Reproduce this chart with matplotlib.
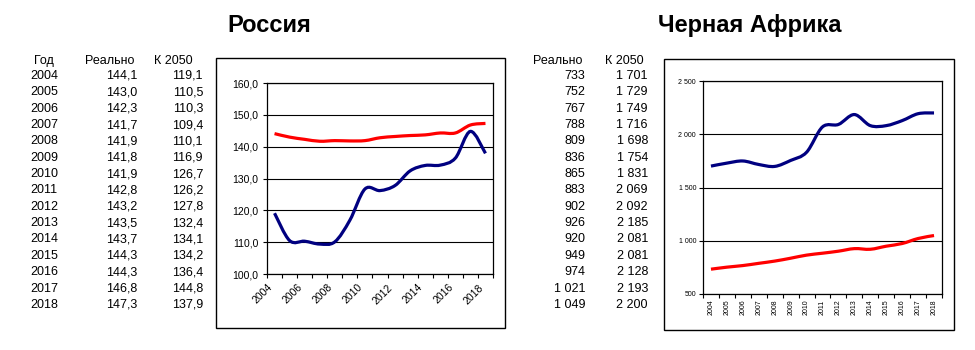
import matplotlib.pyplot as plt
from matplotlib.path import Path
from matplotlib.patches import PathPatch, Rectangle

plt.rcParams['font.family'] = ['Liberation Sans', 'DejaVu Sans']

years = list(range(2004, 2019))

# Россия, млн чел.
rus_real = [144.1, 143.0, 142.3, 141.7, 141.9, 141.8, 141.9, 142.8,
            143.2, 143.5, 143.7, 144.3, 144.3, 146.8, 147.3]
rus_2050 = [119.1, 110.5, 110.3, 109.4, 110.1, 116.9, 126.7, 126.2,
            127.8, 132.4, 134.1, 134.2, 136.4, 144.8, 137.9]

# Черная Африка, млн чел.
afr_real = [733, 752, 767, 788, 809, 836, 865, 883, 902, 926, 920, 949,
            974, 1021, 1049]
afr_2050 = [1701, 1729, 1749, 1716, 1698, 1754, 1831, 2069, 2092, 2185,
            2081, 2081, 2128, 2193, 2200]

W, H = 975, 350
RED = '#ff0000'
NAVY = '#000080'


def fx(px):
    return px / W


def fy(py):
    return 1 - py / H


def rus_fmt(v):
    return f"{v:.1f}".replace('.', ',')


def afr_fmt(v):
    return f"{int(v):,}".replace(',', ' ')


def smooth_line(ax, y, color):
    # smoothed line like the spreadsheet one: cubic Bezier through every point
    x = list(range(len(y)))
    n = len(y)
    verts = [(x[0], y[0])]
    codes = [Path.MOVETO]
    for i in range(n - 1):
        a = i - 1 if i > 0 else i
        b = i + 2 if i + 2 < n else i + 1
        c1 = (x[i] + (x[i + 1] - x[a]) / 6, y[i] + (y[i + 1] - y[a]) / 6)
        c2 = (x[i + 1] - (x[b] - x[i]) / 6, y[i + 1] - (y[b] - y[i]) / 6)
        verts += [c1, c2, (x[i + 1], y[i + 1])]
        codes += [Path.CURVE4] * 3
    ax.add_patch(PathPatch(Path(verts, codes), facecolor='none',
                           edgecolor=color, lw=2.3, zorder=3))


def frame(x0, y0, x1, y1):
    fig.add_artist(Rectangle((fx(x0), fy(y1)), fx(x1 - x0), (y1 - y0) / H,
                             transform=fig.transFigure, fill=False,
                             edgecolor='black', lw=1.0))


fig = plt.figure(figsize=(9.75, 3.5), dpi=100)

# titles
fig.text(fx(269), fy(32), 'Россия', ha='center', va='baseline',
         fontsize=17, fontweight='bold')
fig.text(fx(750), fy(32), 'Черная Африка', ha='center', va='baseline',
         fontsize=17, fontweight='bold')

# tables
row0, step = 76, 16.35
tfs = 9
fig.text(fx(44), fy(61), 'Год', ha='center', va='center', fontsize=tfs)
fig.text(fx(110), fy(61), 'Реально', ha='center', va='center', fontsize=tfs)
fig.text(fx(173), fy(61), 'К 2050', ha='center', va='center', fontsize=tfs)
fig.text(fx(558), fy(61), 'Реально', ha='center', va='center', fontsize=tfs)
fig.text(fx(624), fy(61), 'К 2050', ha='center', va='center', fontsize=tfs)
for i, yr in enumerate(years):
    yy = fy(row0 + i * step)
    fig.text(fx(44), yy, str(yr), ha='center', va='center', fontsize=tfs)
    fig.text(fx(137), yy, rus_fmt(rus_real[i]), ha='right', va='center', fontsize=tfs)
    fig.text(fx(203), yy, rus_fmt(rus_2050[i]), ha='right', va='center', fontsize=tfs)
    fig.text(fx(585), yy, afr_fmt(afr_real[i]), ha='right', va='center', fontsize=tfs)
    fig.text(fx(648), yy, afr_fmt(afr_2050[i]), ha='right', va='center', fontsize=tfs)

# chart frames
frame(216, 58, 505, 328)
frame(664, 59, 954, 330)

# ---- Россия chart ----
ax1 = fig.add_axes([fx(267), fy(274), fx(493 - 267), (274 - 83) / H])
smooth_line(ax1, rus_real, RED)
smooth_line(ax1, rus_2050, NAVY)
ax1.set_xlim(-0.5, len(years) - 0.5)
ax1.set_ylim(100, 160)
ax1.set_yticks(range(100, 161, 10))
ax1.set_yticklabels([rus_fmt(v) for v in range(100, 161, 10)], fontsize=7.5)
ax1.yaxis.grid(True, color='black', lw=0.8)
ax1.set_axisbelow(True)
bounds = [k - 0.5 for k in range(len(years) + 1)]
ax1.set_xticks(bounds)
ax1.set_xticklabels([str(years[k]) if k < len(years) and k % 2 == 0 else ''
                     for k in range(len(bounds))],
                    fontsize=7.5, rotation=45, ha='right', rotation_mode='anchor')
ax1.tick_params(direction='out', length=3, width=0.8, pad=3)
for s in ax1.spines.values():
    s.set_linewidth(0.9)

# ---- Черная Африка chart ----
ax2 = fig.add_axes([fx(703), fy(294), fx(942 - 703), (294 - 81) / H])
smooth_line(ax2, afr_2050, NAVY)
smooth_line(ax2, afr_real, RED)
ax2.set_xlim(-0.5, len(years) - 0.5)
ax2.set_ylim(500, 2500)
ax2.set_yticks(range(500, 2501, 500))
ax2.set_yticklabels([afr_fmt(v) for v in range(500, 2501, 500)], fontsize=5)
ax2.yaxis.grid(True, color='black', lw=0.8)
ax2.set_axisbelow(True)
ax2.set_xticks(bounds)
ax2.set_xticklabels([])
ax2.set_xticks(range(len(years)), minor=True)
ax2.set_xticklabels([str(y) for y in years], minor=True, fontsize=5,
                    rotation=90, va='top')
ax2.tick_params(which='major', direction='out', length=3, width=0.8, pad=2)
ax2.tick_params(which='minor', length=0, pad=4)
for s in ax2.spines.values():
    s.set_linewidth(0.9)

fig.savefig('out.png', dpi=100, facecolor='white')
